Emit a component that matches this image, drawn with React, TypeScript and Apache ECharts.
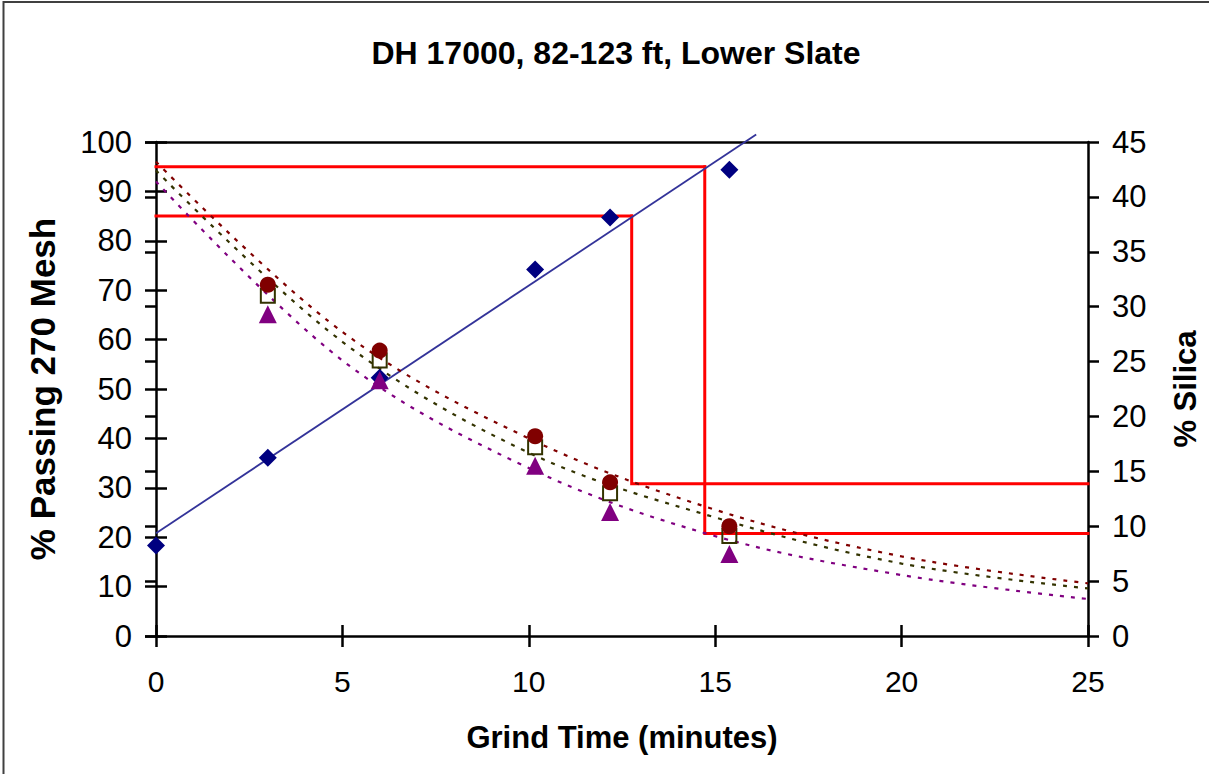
import React, { useEffect, useRef } from "react";
import * as echarts from "echarts";

// ---- data ----
const grindTime = [0, 3, 6, 10.17, 12.18, 15.38];
const passing270 = [18.3, 36.1, 52.3, 74.2, 84.7, 94.4];

const silicaTime = [3, 6, 10.17, 12.18, 15.38];
const silicaCircle = [32.0, 26.0, 18.2, 14.0, 10.0];
const silicaSquare = [31.0, 25.1, 17.2, 13.0, 9.1];
const silicaTriangle = [29.3, 23.3, 15.5, 11.3, 7.46];

const passTrendTime = [0, 16.1];
const passTrendValue = [20.8, 101.5];

const trendTime = [0, 5, 10, 15, 20, 25];
const trendCircle = [43.2, 27.7, 18.0, 11.5, 7.25, 4.8];
const trendSquare = [42.4, 26.8, 16.7, 10.8, 6.6, 4.34];
const trendTriangle = [41.4, 25.1, 15.3, 9.1, 5.55, 3.37];

const targetPassing = [95, 85];
const targetTime = [14.72, 12.76];
const targetSilica = [9.33, 13.86];

const xRange = [0, 25, 5];
const leftRange = [0, 100, 10];
const rightRange = [0, 45, 5];

const FONT = "'Liberation Sans', Arial, Helvetica, sans-serif";

const zip = (xs: number[], ys: number[]) => xs.map((x, i) => [x, ys[i]]);

export default function App() {
  const ref = useRef<HTMLDivElement>(null);

  useEffect(() => {
    if (!ref.current) return;
    const chart = echarts.init(ref.current, undefined, { renderer: "svg" });
    const black = "#000";
    const axisLine = { show: true, onZero: false, lineStyle: { color: black, width: 2.5 } };
    const tickStyle = { color: black, width: 2.5 };
    const ratio = rightRange[1] / leftRange[1];

    const redSeries: any[] = [];
    targetPassing.forEach((p, i) => {
      redSeries.push({
        type: "line",
        xAxisIndex: 0,
        yAxisIndex: 0,
        data: [
          [xRange[0], p],
          [targetTime[i], p],
        ],
        symbol: "none",
        clip: false,
        lineStyle: { color: "#ff0000", width: 3, cap: "square" },
        z: 2,
      });
      redSeries.push({
        type: "line",
        xAxisIndex: 0,
        yAxisIndex: 1,
        data: [
          [targetTime[i], p * ratio],
          [targetTime[i], targetSilica[i]],
          [xRange[1], targetSilica[i]],
        ],
        symbol: "none",
        clip: false,
        lineStyle: { color: "#ff0000", width: 3, cap: "square", join: "miter" },
        z: 2,
      });
    });

    const dotted = (color: string) => ({ color, width: 2.2, type: [4, 7] as any });

    chart.setOption({
      animation: false,
      backgroundColor: "#fff",
      textStyle: { fontFamily: FONT },
      title: {
        text: "DH 17000, 82-123 ft, Lower Slate",
        left: 611,
        textAlign: "center",
        top: 32,
        textStyle: { fontFamily: FONT, fontSize: 32, fontWeight: "bold", color: black },
      },
      graphic: [
        {
          type: "rect",
          shape: { x: 3.5, y: 2, width: 1400, height: 1000 },
          style: { fill: "none", stroke: "#404040", lineWidth: 2 },
          silent: true,
        },
      ],
      grid: { left: 156, right: 117, top: 142, bottom: 138, containLabel: false },
      xAxis: [
        {
          type: "value",
          min: xRange[0],
          max: xRange[1],
          interval: xRange[2],
          position: "bottom",
          axisLine,
          axisTick: { show: true, inside: false, length: 11, lineStyle: tickStyle },
          axisLabel: { fontSize: 30, color: black, margin: 30, fontFamily: FONT },
          splitLine: { show: false },
          name: "Grind Time (minutes)",
          nameLocation: "middle",
          nameGap: 86,
          nameTextStyle: { fontSize: 31, fontWeight: "bold", color: black, fontFamily: FONT },
        },
        {
          type: "value",
          min: xRange[0],
          max: xRange[1],
          interval: xRange[2],
          position: "bottom",
          axisLine: { show: false },
          axisTick: { show: true, inside: true, length: 11, lineStyle: tickStyle },
          axisLabel: { show: false },
          splitLine: { show: false },
        },
        {
          type: "value",
          min: xRange[0],
          max: xRange[1],
          position: "top",
          axisLine,
          axisTick: { show: false },
          axisLabel: { show: false },
          splitLine: { show: false },
        },
      ],
      yAxis: [
        {
          type: "value",
          min: leftRange[0],
          max: leftRange[1],
          interval: leftRange[2],
          position: "left",
          axisLine,
          axisTick: { show: true, inside: false, length: 11, lineStyle: tickStyle },
          axisLabel: { fontSize: 31, color: black, margin: 24, fontFamily: FONT },
          splitLine: { show: false },
          name: "% Passing 270 Mesh",
          nameLocation: "middle",
          nameGap: 96,
          nameTextStyle: { fontSize: 35, fontWeight: "bold", color: black, fontFamily: FONT },
        },
        {
          type: "value",
          min: rightRange[0],
          max: rightRange[1],
          interval: rightRange[2],
          position: "right",
          axisLine,
          axisTick: { show: true, inside: false, length: 11, lineStyle: tickStyle },
          axisLabel: { fontSize: 31, color: black, margin: 24, fontFamily: FONT },
          splitLine: { show: false },
          name: "% Silica",
          nameLocation: "middle",
          nameGap: 82,
          nameRotate: 90,
          nameTextStyle: { fontSize: 31, fontWeight: "bold", color: black, fontFamily: FONT },
        },
        {
          type: "value",
          min: leftRange[0],
          max: leftRange[1],
          interval: leftRange[2],
          position: "left",
          axisLine: { show: false },
          axisTick: { show: true, inside: true, length: 11, lineStyle: tickStyle },
          axisLabel: { show: false },
          splitLine: { show: false },
        },
        {
          type: "value",
          min: rightRange[0],
          max: rightRange[1],
          interval: rightRange[2],
          position: "right",
          axisLine: { show: false },
          axisTick: { show: true, inside: true, length: 11, lineStyle: tickStyle },
          axisLabel: { show: false },
          splitLine: { show: false },
        },
      ],
      series: [
        ...redSeries,
        {
          type: "line",
          name: "passing trend",
          xAxisIndex: 0,
          yAxisIndex: 0,
          data: zip(passTrendTime, passTrendValue),
          symbol: "none",
          clip: false,
          lineStyle: { color: "#333399", width: 1.8 },
          z: 3,
        },
        {
          type: "line",
          xAxisIndex: 0,
          yAxisIndex: 1,
          data: zip(trendTime, trendCircle),
          symbol: "none",
          smooth: 0.35,
          lineStyle: dotted("#800000"),
          z: 3,
        },
        {
          type: "line",
          xAxisIndex: 0,
          yAxisIndex: 1,
          data: zip(trendTime, trendSquare),
          symbol: "none",
          smooth: 0.35,
          lineStyle: dotted("#333300"),
          z: 3,
        },
        {
          type: "line",
          xAxisIndex: 0,
          yAxisIndex: 1,
          data: zip(trendTime, trendTriangle),
          symbol: "none",
          smooth: 0.35,
          lineStyle: dotted("#800080"),
          z: 3,
        },
        {
          type: "scatter",
          name: "% Passing",
          xAxisIndex: 0,
          yAxisIndex: 0,
          data: zip(grindTime, passing270),
          symbol: "diamond",
          symbolSize: 18,
          itemStyle: { color: "#000080", opacity: 1 },
          z: 4,
        },
        {
          type: "scatter",
          xAxisIndex: 0,
          yAxisIndex: 1,
          data: zip(silicaTime, silicaSquare),
          symbol: "rect",
          symbolSize: 14,
          itemStyle: { color: "rgba(255,255,255,0)", borderColor: "#333300", borderWidth: 2, opacity: 1 },
          z: 4,
        },
        {
          type: "scatter",
          xAxisIndex: 0,
          yAxisIndex: 1,
          data: zip(silicaTime, silicaCircle),
          symbol: "circle",
          symbolSize: 16,
          itemStyle: { color: "#800000", opacity: 1 },
          z: 5,
        },
        {
          type: "scatter",
          xAxisIndex: 0,
          yAxisIndex: 1,
          data: zip(silicaTime, silicaTriangle),
          symbol: "triangle",
          symbolSize: 18,
          itemStyle: { color: "#800080", opacity: 1 },
          z: 5,
        },
      ],
    });
    return () => chart.dispose();
  }, []);

  return (
    <div
      ref={ref}
      style={{ position: "absolute", left: 0, top: 0, width: 1209, height: 774, background: "#fff" }}
    />
  );
}
